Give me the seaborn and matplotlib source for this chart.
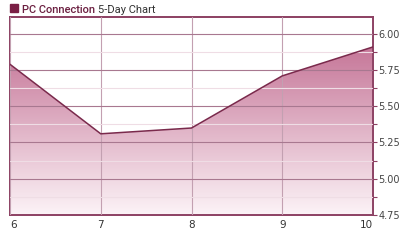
import numpy as np
import pandas as pd
import matplotlib
matplotlib.use("Agg")
import matplotlib.pyplot as plt
from matplotlib.colors import LinearSegmentedColormap
from matplotlib.patches import Rectangle
import seaborn as sns

days = [6, 7, 8, 9, 10]
prices = [5.79, 5.31, 5.35, 5.71, 5.91]
y_ticks = [4.75, 5.00, 5.25, 5.50, 5.75, 6.00]
y_tick_labels = ["4.75", "5.00", "5.25", "5.50", "5.75", "6.00"]
title_company = "PC Connection"
title_rest = "5-Day Chart"

df = pd.DataFrame({"day": days, "price": prices})

sns.set_style("white")
plt.rcParams["font.family"] = ["DejaVu Sans"]

MAROON = "#7a2a4c"
BORDER = "#8c4062"
fig = plt.figure(figsize=(4.0, 2.42), dpi=100)
ax = fig.add_axes([0.025, 0.112, 0.9075, 0.818])

ymin, ymax = 4.75, 6.117
ax.set_xlim(6, 10)
ax.set_ylim(ymin, ymax)

# gradient fill under the line
poly = ax.fill_between(df["day"], df["price"], ymin, color="none", zorder=1)
cmap = LinearSegmentedColormap.from_list("g", ["#fcf3f7", "#c47295"])
grad = np.linspace(0, 1, 256).reshape(-1, 1)
im = ax.imshow(grad, cmap=cmap, aspect="auto", origin="lower",
               extent=[6, 10, ymin, 5.95], zorder=1, interpolation="bilinear")
path = poly.get_paths()[0]
im.set_clip_path(path, transform=ax.transData)

sns.lineplot(data=df, x="day", y="price", ax=ax, color=MAROON, lw=1.1, zorder=4)

# grid
ax.set_axisbelow(False)
ax.set_xticks(days)
ax.set_yticks(y_ticks)
ax.set_yticks(np.arange(4.875, 6.1, 0.25), minor=True)
ax.grid(True, which="major", axis="y", color="#a87890", lw=0.8, zorder=2)
ax.grid(True, which="minor", axis="y", color="#efdde5", lw=0.8, zorder=2)
ax.grid(True, which="major", axis="x", color="#c3a0b1", lw=0.8, zorder=2)

ax.yaxis.tick_right()
ax.set_yticklabels(y_tick_labels)
ax.tick_params(axis="y", which="both", direction="out", length=3, width=0.8,
               color=BORDER, labelsize=7, labelcolor="#444444", pad=1)
ax.tick_params(axis="x", direction="in", length=3, width=0.8, color=BORDER,
               labelsize=7.5, labelcolor="#333333", pad=4)
labels = ax.set_xticklabels([str(d) for d in days])
labels[0].set_ha("left")
labels[-1].set_ha("right")
ax.set_xlabel("")
ax.set_ylabel("")

for s in ax.spines.values():
    s.set_visible(True)
    s.set_color(BORDER)
    s.set_linewidth(1.4)

# title
fig.patches.append(Rectangle((10 / 400, 1 - 12 / 242), 8 / 400, 8 / 242,
                             transform=fig.transFigure, color="#7a1f45"))
t1 = fig.text(22 / 400, 1 - 13 / 242, title_company, fontsize=8,
              family="Roboto", color="#6b1f40", fontweight="medium",
              va="baseline", ha="left")
fig.canvas.draw()
bb = t1.get_window_extent()
fig.text((bb.x1 + 3) / 400, 1 - 13 / 242, title_rest, fontsize=8,
         family="Roboto", color="#333333", va="baseline", ha="left")

fig.savefig("out.png", dpi=100)
